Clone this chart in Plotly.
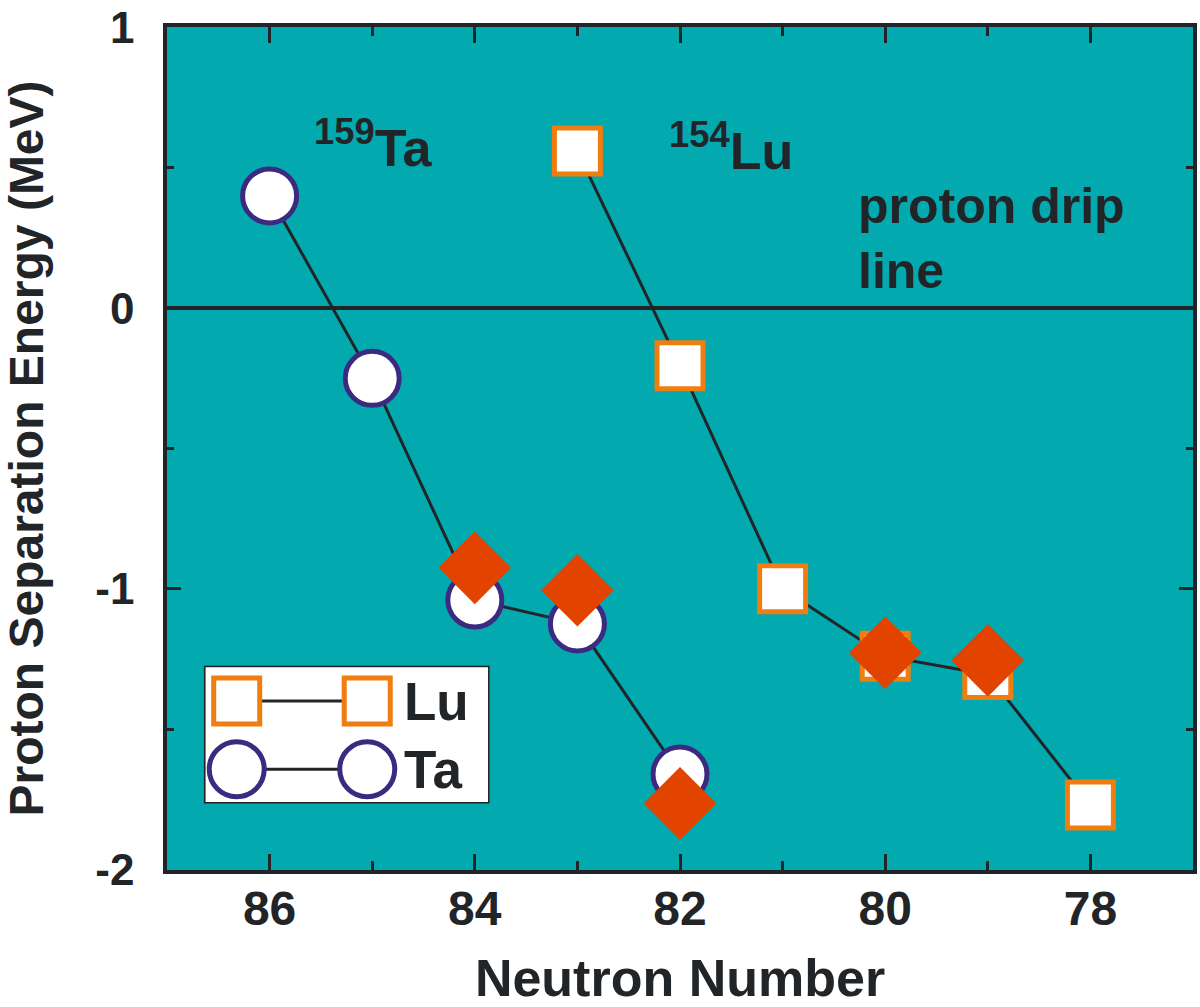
import plotly.graph_objects as go

# ---------------- data ----------------
ta_n = [86, 85, 84, 83, 82]
ta_sp = [0.40, -0.25, -1.04, -1.125, -1.66]

lu_n = [83, 82, 81, 80, 79, 78]
lu_sp = [0.56, -0.205, -1.00, -1.24, -1.305, -1.77]

exp_n = [84, 83, 82, 80, 79]
exp_sp = [-0.925, -1.005, -1.765, -1.228, -1.255]

x_ticks = [86, 84, 82, 80, 78]
x_minor = [85, 83, 81, 79]
y_ticks = [-2, -1, 0, 1]
y_minor = [-1.5, -0.5, 0.5]

# ---------------- style ----------------
BG = "#02AAAF"
ORANGE = "#EF7D10"
DIAMOND = "#E24400"
INDIGO = "#3B2A80"
INK = "#222528"
FAM = "Liberation Sans, Arial, sans-serif"


def bold(size):
    return dict(family=FAM, size=size, color=INK, weight="bold")


fig = go.Figure()

fig.add_trace(go.Scatter(
    x=lu_n, y=lu_sp, mode="lines+markers",
    line=dict(color=INK, width=3),
    marker=dict(symbol="square", size=46, color="white",
                line=dict(color=ORANGE, width=5)),
    name="Lu", cliponaxis=False))

fig.add_trace(go.Scatter(
    x=ta_n, y=ta_sp, mode="lines+markers",
    line=dict(color=INK, width=3),
    marker=dict(symbol="circle", size=54, color="white",
                line=dict(color=INDIGO, width=5)),
    name="Ta", cliponaxis=False))

fig.add_trace(go.Scatter(
    x=exp_n, y=exp_sp, mode="markers",
    marker=dict(symbol="diamond", size=56, color=DIAMOND,
                line=dict(width=0)),
    name="exp", cliponaxis=False))

# ---------------- custom legend (inset axes, box units) ----------------
BOX_W, BOX_H = 287, 140
fig.add_trace(go.Scatter(
    x=[0, BOX_W, BOX_W, 0, 0], y=[0, 0, BOX_H, BOX_H, 0],
    xaxis="x2", yaxis="y2", mode="lines", fill="toself",
    fillcolor="white", line=dict(color=INK, width=3.5),
    hoverinfo="skip", cliponaxis=False))

leg_x = [33, 164]
fig.add_trace(go.Scatter(
    x=leg_x, y=[104, 104], xaxis="x2", yaxis="y2", mode="lines+markers",
    line=dict(color=INK, width=3),
    marker=dict(symbol="square", size=46, color="white",
                line=dict(color=ORANGE, width=5)),
    hoverinfo="skip", cliponaxis=False))
fig.add_trace(go.Scatter(
    x=leg_x, y=[35, 35], xaxis="x2", yaxis="y2", mode="lines+markers",
    line=dict(color=INK, width=3),
    marker=dict(symbol="circle", size=55, color="white",
                line=dict(color=INDIGO, width=5)),
    hoverinfo="skip", cliponaxis=False))

fig.add_annotation(x=199, y=104, xref="x2", yref="y2", text="Lu",
                   showarrow=False, xanchor="left", yanchor="middle",
                   font=bold(53))
fig.add_annotation(x=199, y=35, xref="x2", yref="y2", text="Ta",
                   showarrow=False, xanchor="left", yanchor="middle",
                   font=bold(53))

# ---------------- text labels ----------------
fig.add_annotation(x=85.59, y=0.46, xref="x", yref="y",
                   text="<sup>159</sup>Ta", showarrow=False,
                   xanchor="left", yanchor="bottom", font=bold(52))
fig.add_annotation(x=82.13, y=0.448, xref="x", yref="y",
                   text="<sup>154</sup>Lu", showarrow=False,
                   xanchor="left", yanchor="bottom", font=bold(52))
fig.add_annotation(x=80.28, y=0.027, xref="x", yref="y",
                   text="proton drip<br>line", showarrow=False, align="left",
                   xanchor="left", yanchor="bottom", font=bold(50))

# ---------------- layout ----------------
fig.update_layout(
    width=1200, height=1007,
    margin=dict(l=167, r=3, t=21, b=132),
    plot_bgcolor=BG, paper_bgcolor="white",
    showlegend=False,
    xaxis=dict(
        range=[87, 77], tickvals=x_ticks, ticktext=[str(v) for v in x_ticks],
        ticks="inside", ticklen=16, tickwidth=2.5, tickcolor=INK,
        minor=dict(tickvals=x_minor, ticks="inside", ticklen=9,
                   tickwidth=2.5, tickcolor=INK),
        showline=True, linecolor=INK, linewidth=3.5, mirror="allticks",
        showgrid=False, zeroline=False,
        tickfont=bold(48), ticklabelstandoff=-6, ticklabeloverflow="allow",
        title=dict(text="Neutron Number", font=bold(52), standoff=32),
    ),
    yaxis=dict(
        range=[-2.002, 1.002], tickvals=y_ticks,
        ticktext=[str(v) for v in y_ticks],
        ticks="inside", ticklen=14, tickwidth=2.5, tickcolor=INK,
        minor=dict(tickvals=y_minor, ticks="inside", ticklen=7,
                   tickwidth=2.5, tickcolor=INK),
        showline=True, linecolor=INK, linewidth=3.5, mirror="allticks",
        showgrid=False, zeroline=True, zerolinecolor=INK, zerolinewidth=3.5,
        tickfont=bold(44), ticklabelstandoff=20, ticklabeloverflow="allow",
        title=dict(text="Proton Separation Energy (MeV)", font=bold(48),
                   standoff=44),
    ),
    xaxis2=dict(domain=[0.0359, 0.3146], range=[0, BOX_W], anchor="y2",
                visible=False, fixedrange=True),
    yaxis2=dict(domain=[0.0785, 0.2425], range=[0, BOX_H], anchor="x2",
                visible=False, fixedrange=True),
)

fig.write_html("out.html")
